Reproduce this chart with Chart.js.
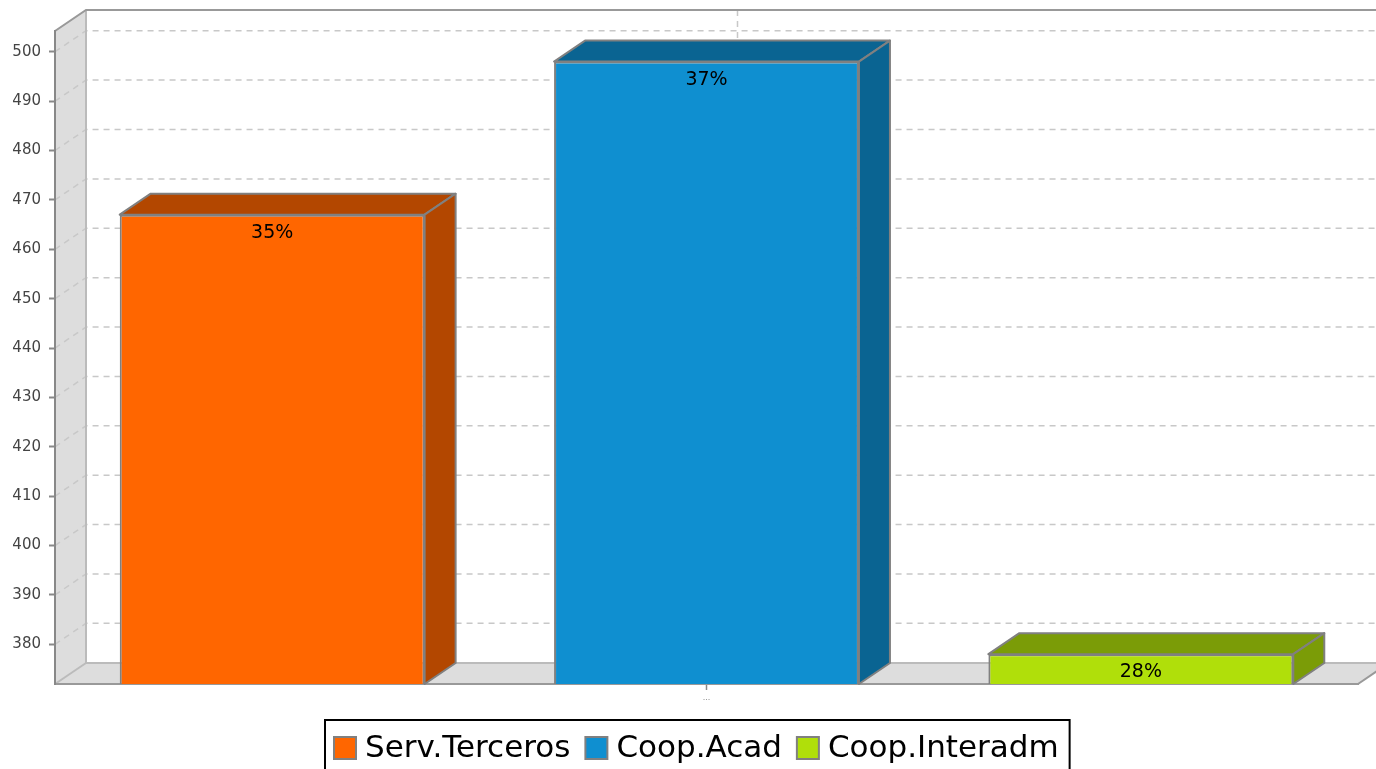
<!DOCTYPE html>
<html>
<head>
<meta charset="utf-8">
<script src="https://cdn.jsdelivr.net/npm/chart.js@4.4.1/dist/chart.umd.min.js"></script>
<style>
  html, body { margin: 0; padding: 0; background: #fff; }
  #wrap { width: 1376px; height: 769px; overflow: hidden; }
</style>
</head>
<body>
<div id="wrap"><canvas id="barChart" width="1376" height="769"></canvas></div>
<script>
// data
const categories = ["..."];
const seriesNames = ["Serv.Terceros", "Coop.Acad", "Coop.Interadm"];
const seriesValues = [467, 498, 378];
const frontColors = ["#ff6600", "#0f8fd0", "#b0df0a"];
const sideColors = ["#b34700", "#0a6492", "#7b9c07"];
const yMin = 371.96, yMax = 504.2, yStep = 10;

// 3d depth of the plot (px)
const DX = 31, DY = 21;
const FONT = "'DejaVu Sans', 'Liberation Sans', sans-serif";

const total = seriesValues.reduce((s, v) => s + v, 0);

function line(ctx, pts) {
    ctx.beginPath();
    ctx.moveTo(pts[0][0], pts[0][1]);
    for (let i = 1; i < pts.length; i++) ctx.lineTo(pts[i][0], pts[i][1]);
}

const threeD = {
    id: "threeD",
    beforeDraw(chart) {
        const ctx = chart.ctx, a = chart.chartArea;
        const ys = chart.scales.y, xs = chart.scales.x;
        ctx.save();
        // left wall and floor
        ctx.fillStyle = "#dddddd";
        line(ctx, [[a.left, a.top], [a.left + DX, a.top - DY], [a.left + DX, a.bottom - DY], [a.left, a.bottom]]);
        ctx.closePath();
        ctx.fill();
        line(ctx, [[a.left, a.bottom], [a.left + DX, a.bottom - DY], [a.right + DX, a.bottom - DY], [a.right, a.bottom]]);
        ctx.closePath();
        ctx.fill();

        // dashed gridlines on the walls
        ctx.strokeStyle = "#c8c8c8";
        ctx.lineWidth = 1.5;
        ctx.setLineDash([6, 5]);
        ys.ticks.forEach(t => {
            const py = ys.getPixelForValue(t.value);
            line(ctx, [[a.left, py], [a.left + DX, py - DY], [a.right + DX, py - DY]]);
            ctx.stroke();
        });
        const cx = xs.getPixelForTick(0) + DX;
        line(ctx, [[cx, a.top - DY], [cx, a.bottom - DY]]);
        ctx.stroke();
        ctx.setLineDash([]);

        // wall edges
        ctx.strokeStyle = "#bbbbbb";
        ctx.lineWidth = 2;
        line(ctx, [[a.left + DX, a.top - DY], [a.left + DX, a.bottom - DY], [a.right + DX, a.bottom - DY]]);
        ctx.stroke();
        line(ctx, [[a.left, a.bottom], [a.left + DX, a.bottom - DY]]);
        ctx.stroke();
        ctx.strokeStyle = "#999999";
        line(ctx, [[a.left, a.top], [a.left + DX, a.top - DY], [a.right + DX, a.top - DY]]);
        ctx.stroke();
        line(ctx, [[a.right, a.bottom], [a.right + DX, a.bottom - DY]]);
        ctx.stroke();
        ctx.restore();
    },
    afterDatasetsDraw(chart) {
        const ctx = chart.ctx, a = chart.chartArea;
        ctx.save();
        ctx.lineWidth = 2;
        ctx.strokeStyle = "#808080";
        ctx.lineJoin = "round";
        chart.data.datasets.forEach((ds, i) => {
            const bar = chart.getDatasetMeta(i).data[0];
            const p = bar.getProps(["x", "y", "base", "width"], true);
            const l = p.x - p.width / 2, r = p.x + p.width / 2;
            const base = Math.min(p.base, a.bottom);
            ctx.fillStyle = sideColors[i];
            // top face
            line(ctx, [[l, p.y], [l + DX, p.y - DY], [r + DX, p.y - DY], [r, p.y]]);
            ctx.closePath();
            ctx.fill();
            ctx.stroke();
            // side face
            line(ctx, [[r, p.y], [r + DX, p.y - DY], [r + DX, base - DY], [r, base]]);
            ctx.closePath();
            ctx.fill();
            ctx.stroke();
            // percent label
            const pct = Math.round(ds.data[0] / total * 100) + "%";
            ctx.fillStyle = "#000";
            ctx.font = "19px " + FONT;
            ctx.textAlign = "center";
            ctx.textBaseline = "middle";
            ctx.fillText(pct, p.x, p.y + 18);
        });
        ctx.restore();
    },
    afterDraw(chart) {
        // boxed legend below the plot
        const ctx = chart.ctx;
        ctx.save();
        ctx.font = "31px " + FONT;
        const box = 22, gapText = 9, gapItem = 15, padL = 9, padR = 11;
        const widths = chart.data.datasets.map(ds => ctx.measureText(ds.label).width);
        let w = padL + padR;
        widths.forEach((tw, i) => { w += box + gapText + tw + (i < widths.length - 1 ? gapItem : 0); });
        const left = Math.round(697 - w / 2), top = 720, mid = 748;
        ctx.strokeStyle = "#000";
        ctx.lineWidth = 2;
        ctx.strokeRect(left, top, w, 80);
        let x = left + padL;
        ctx.textBaseline = "middle";
        ctx.textAlign = "left";
        chart.data.datasets.forEach((ds, i) => {
            ctx.fillStyle = frontColors[i];
            ctx.fillRect(x, mid - box / 2, box, box);
            ctx.strokeStyle = "#808080";
            ctx.strokeRect(x, mid - box / 2, box, box);
            ctx.fillStyle = "#000";
            ctx.fillText(ds.label, x + box + gapText, mid + 1);
            x += box + gapText + widths[i] + gapItem;
        });
        ctx.restore();
    }
};

const datasets = seriesNames.map((name, i) => ({
    label: name,
    data: [seriesValues[i]],
    backgroundColor: frontColors[i],
    borderColor: "#808080",
    borderWidth: 2,
    borderSkipped: false,
    categoryPercentage: 1,
    barPercentage: 0.702
}));

new Chart(document.getElementById("barChart").getContext("2d"), {
    type: "bar",
    data: { labels: categories, datasets: datasets },
    plugins: [threeD],
    options: {
        responsive: false,
        animation: false,
        devicePixelRatio: 1,
        layout: { padding: { top: 31, right: 18, left: 0, bottom: 0 } },
        plugins: {
            legend: { display: false },
            tooltip: { enabled: false }
        },
        scales: {
            x: {
                afterFit: scale => { scale.height = 85; },
                grid: { display: true, drawOnChartArea: false, offset: false, tickLength: 6, tickColor: "#888", tickWidth: 1.5 },
                border: { display: true, color: "#999", width: 2 },
                ticks: { font: { family: FONT, size: 8 }, color: "#888", padding: 3 }
            },
            y: {
                min: yMin,
                max: yMax,
                afterFit: scale => { scale.width = 55; },
                grid: { display: true, drawOnChartArea: false, tickLength: 6, tickColor: "#888", tickWidth: 2 },
                border: { display: true, color: "#888", width: 2 },
                ticks: { stepSize: yStep, includeBounds: false, font: { family: FONT, size: 15 }, color: "#444", padding: 8 }
            }
        }
    }
});
</script>
</body>
</html>
